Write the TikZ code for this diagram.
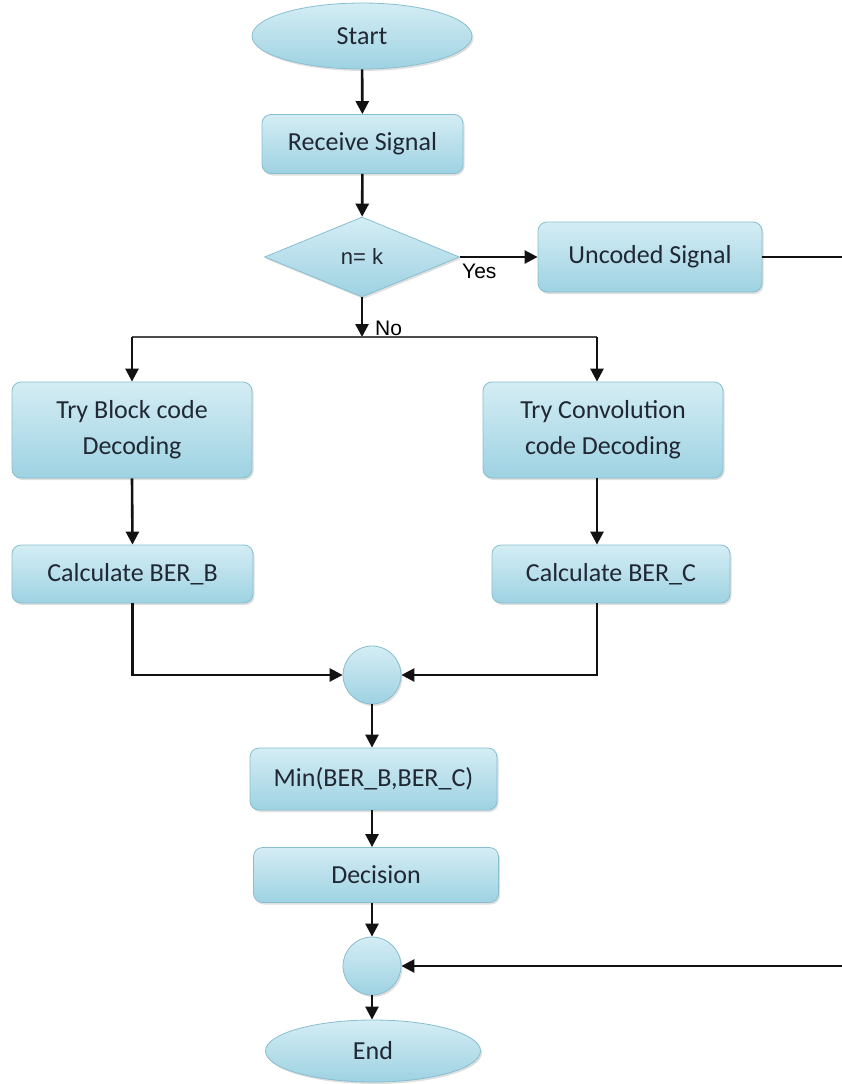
\documentclass[tikz,border=0pt]{standalone}
\usepackage{fontspec}
\setmainfont{Carlito}
\newfontfamily\arialish{Liberation Sans}
\usetikzlibrary{shapes.geometric,arrows.meta,shadows}
\definecolor{fillTop}{RGB}{212,237,244}
\definecolor{fillBot}{RGB}{158,210,226}
\definecolor{edgeC}{RGB}{135,190,208}
\definecolor{txtC}{RGB}{32,40,52}
\definecolor{lineC}{RGB}{18,18,18}
\begin{document}
\begin{tikzpicture}[x=1pt,y=-1pt,
  font=\fontsize{26}{36}\selectfont,
  shp/.style={draw=edgeC, line width=0.8pt, top color=fillTop, bottom color=fillBot,
    drop shadow={opacity=0.25, shadow xshift=1.5pt, shadow yshift=-2pt},
    inner sep=0pt, align=center, text=txtC},
  box/.style={shp, rectangle, rounded corners=9pt},
  oval/.style={shp, ellipse},
  rhomb/.style={shp, diamond, aspect=2.44},
  junc/.style={shp, circle, minimum size=58pt},
  arr/.style={-{Triangle[length=13pt,width=13pt]}, line width=2.6pt, draw=lineC},
  ln/.style={line width=2.6pt, draw=lineC},
  thinln/.style={line width=1.8pt, draw=lineC},
  lbl/.style={font=\arialish\fontsize{21}{25}\selectfont, text=black, inner sep=0pt}
]
\useasboundingbox (0,0) rectangle (842,1084);

% nodes
\node[oval, minimum width=220pt, minimum height=66pt] (start) at (362,36) {Start};
\node[box, minimum width=201pt, minimum height=59pt] (recv) at (362.5,144) {Receive Signal};
\node[rhomb, minimum width=195pt, minimum height=80pt, font=\arialish\fontsize{22}{26}\selectfont] (dec) at (362,257) {n= k};
\node[box, minimum width=224pt, minimum height=70pt] (unc) at (650,257) {Uncoded Signal};
\node[box, minimum width=240pt, minimum height=96pt] (blk) at (132,430) {Try Block code\\Decoding};
\node[box, minimum width=240pt, minimum height=96pt] (cnv) at (603,430) {Try Convolution\\code Decoding};
\node[box, minimum width=241pt, minimum height=58pt] (calcb) at (132.5,574) {Calculate BER\_B};
\node[box, minimum width=238pt, minimum height=58pt] (calcc) at (611,574) {Calculate BER\_C};
\node[junc] (m1) at (372,675) {};
\node[box, minimum width=247pt, minimum height=62pt] (minb) at (373.5,779) {Min(BER\_B,BER\_C)};
\node[box, minimum width=245pt, minimum height=55pt] (decis) at (376,875) {Decision};
\node[junc] (m2) at (372,966) {};
\node[oval, minimum width=215pt, minimum height=62pt] (end) at (373,1051) {End};

% labels
\node[lbl, anchor=west] (yes) at (462,271) {Yes};
\node[lbl, anchor=west] (no) at (375,328) {No};

% helper coordinates
\coordinate (jn) at (362,337);
\coordinate (colL) at (132,337);
\coordinate (colR) at (597,337);
\coordinate (edgeA) at (842,257);
\coordinate (edgeB) at (842,966);

% connectors
\draw[arr] (start) -- (recv);
\draw[arr] (recv) -- (dec);
\draw[arr] (dec.east) -- (unc.west);
\draw[thinln] (unc.east) -- (edgeA);
\draw[arr] (dec.south) -- (jn);
\draw[ln, draw=lineC!75] (colL) -- (colR);
\draw[arr] (colL) -- (blk.north -| colL);
\draw[arr] (colR) -- (cnv.north -| colR);
\draw[arr] (blk.south) -- (calcb.north);
\draw[arr] (cnv.south -| colR) -- (calcc.north -| colR);
\draw[arr] (calcb.south) |- (m1.west);
\draw[arr] (calcc.south -| colR) |- (m1.east);
\draw[arr] (m1.south) -- (m1.south |- minb.north);
\draw[arr] (minb.south -| m1.south) -- (decis.north -| m1.south);
\draw[arr] (decis.south -| m2.north) -- (m2.north);
\draw[arr] (edgeB) -- (m2.east);
\draw[arr] (m2.south) -- (m2.south |- end.north);
\end{tikzpicture}
\end{document}
